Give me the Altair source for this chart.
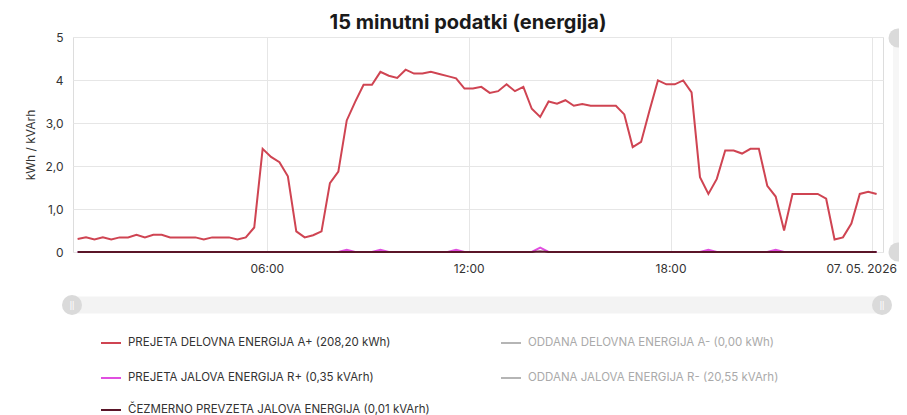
import altair as alt
import pandas as pd

# ---------------- data ----------------
series_names = [
    "PREJETA DELOVNA ENERGIJA A+ (208,20 kWh)",
    "PREJETA JALOVA ENERGIJA R+ (0,35 kVArh)",
    "ČEZMERNO PREVZETA JALOVA ENERGIJA (0,01 kVArh)",
]
hidden_names = [
    "ODDANA DELOVNA ENERGIJA A- (0,00 kWh)",
    "ODDANA JALOVA ENERGIJA R- (20,55 kVArh)",
]
series_colors = ["#cf4452", "#e04fe0", "#5a1528"]
hidden_colors = ["#b5b5b5", "#b5b5b5"]

# quarter-hour interval midpoints, in hours (00:22:30 ... 24:07:30)
hours = [0.375 + 0.25 * i for i in range(96)]

a_plus = [
    0.30, 0.34, 0.29, 0.34, 0.29, 0.34, 0.34, 0.40, 0.34, 0.40, 0.40, 0.34,
    0.34, 0.34, 0.34, 0.29, 0.34, 0.34, 0.34, 0.29, 0.34, 0.57, 2.40, 2.21,
    2.09, 1.76, 0.48, 0.34, 0.39, 0.48, 1.60, 1.87, 3.06, 3.49, 3.89, 3.89,
    4.19, 4.10, 4.05, 4.24, 4.15, 4.15, 4.19, 4.14, 4.09, 4.04, 3.80, 3.80,
    3.84, 3.70, 3.74, 3.90, 3.74, 3.84, 3.33, 3.14, 3.50, 3.45, 3.53, 3.40,
    3.44, 3.40, 3.40, 3.40, 3.40, 3.20, 2.44, 2.56, 3.29, 3.99, 3.90, 3.90,
    3.99, 3.71, 1.74, 1.35, 1.70, 2.36, 2.36, 2.29, 2.40, 2.40, 1.54, 1.29,
    0.50, 1.35, 1.35, 1.35, 1.35, 1.24, 0.29, 0.34, 0.66, 1.35, 1.40, 1.35,
]
r_plus = [0.0] * 96
for k, val in [(32, 0.05), (36, 0.05), (45, 0.05), (55, 0.10), (75, 0.05), (83, 0.05)]:
    r_plus[k] = val
excess = [0.0] * 96
excess[55] = 0.01

x_ticks = [6, 12, 18, 24]
x_tick_labels = ["06:00", "12:00", "18:00", "07. 05. 2026"]
y_ticks = [0, 1, 2, 3, 4, 5]
y_tick_labels = ["0", "1,0", "2,0", "3,0", "4", "5"]

rows = []
for name, vals in zip(series_names, [a_plus, r_plus, excess]):
    for h, v in zip(hours, vals):
        rows.append({"h": h, "v": v, "s": name})
df = pd.DataFrame(rows)

FONT = "Inter"


def js_list(items):
    return "[" + ",".join(repr(i) for i in items) + "]"


x_enc = alt.X(
    "h:Q",
    scale=alt.Scale(domain=[0.238, 24.315], nice=False, zero=False),
    axis=alt.Axis(
        values=x_ticks,
        labelExpr=f"{js_list(x_tick_labels)}[indexof({js_list(x_ticks)}, datum.value)]",
        title=None, domain=False, ticks=False, grid=True, gridColor="#e6e6e6",
        labelFont=FONT, labelFontSize=12, labelColor="#333333", labelPadding=11,
        labelFlush=12, labelFlushOffset=24, labelOverlap=False,
    ),
)
y_enc = alt.Y(
    "v:Q",
    scale=alt.Scale(domain=[0, 5], nice=False, zero=True),
    axis=alt.Axis(
        values=y_ticks,
        labelExpr=f"{js_list(y_tick_labels)}[indexof({js_list(y_ticks)}, datum.value)]",
        title="kWh / kVArh", titleFont=FONT, titleFontSize=12, titleFontWeight="normal",
        titleColor="#333333", titleAngle=-90, titleX=-43, titleY=107.5,
        titleAlign="center", titleBaseline="middle",
        domain=False, ticks=False, grid=True, gridColor="#e6e6e6",
        labelFont=FONT, labelFontSize=12, labelColor="#333333", labelPadding=10,
    ),
)


def make_legend(x, y, color):
    return alt.Legend(
        title=None, orient="none", legendX=x, legendY=y, direction="vertical",
        rowPadding=18, labelFont=FONT, labelFontSize=11.5, labelColor=color,
        labelLimit=500, symbolType="stroke", symbolSize=400, symbolStrokeWidth=2,
        labelOffset=6,
    )


stroke_main = alt.Stroke(
    "s:N", scale=alt.Scale(domain=series_names[:2], range=series_colors[:2]),
    legend=make_legend(27, 295, "#333333"),
)
stroke_excess = alt.Stroke(
    "s:N", scale=alt.Scale(domain=series_names[2:], range=series_colors[2:]),
    legend=make_legend(27, 362, "#333333"),
)

base = alt.Chart(df)
line_a = (base.transform_filter(alt.datum.s == series_names[0])
          .mark_line(strokeWidth=2).encode(x=x_enc, y=y_enc, stroke=stroke_main))
line_r = (base.transform_filter(alt.datum.s == series_names[1])
          .mark_line(strokeWidth=2).encode(x=x_enc, y=y_enc, stroke=stroke_main))
main = alt.layer(line_a, line_r)
line_c = (base.transform_filter(alt.datum.s == series_names[2])
          .mark_line(strokeWidth=2).encode(x=x_enc, y=y_enc, stroke=stroke_excess))

hidden = (
    alt.Chart(pd.DataFrame({"s": hidden_names}))
    .transform_filter("false")
    .mark_line(strokeWidth=2)
    .encode(
        x=x_enc, y=y_enc,
        stroke=alt.Stroke("s:N", scale=alt.Scale(domain=hidden_names, range=hidden_colors),
                          legend=make_legend(427, 295, "#aaaaaa")),
    )
)

# ---- chart furniture (range navigator & side scroller) ----
one = alt.Chart(pd.DataFrame({"k": [0]}))
nav_bar = one.mark_rule(color="#f3f3f3", strokeWidth=17, strokeCap="round").encode(
    x=alt.value(-1), x2=alt.value(809), y=alt.value(268)
)
nav_h1 = one.mark_circle(color="#dadada", opacity=1, size=400).encode(x=alt.value(-1), y=alt.value(268))
nav_h2 = one.mark_circle(color="#dadada", opacity=1, size=400).encode(x=alt.value(809), y=alt.value(268))
nav_t1 = one.mark_text(text="||", color="white", fontSize=9).encode(x=alt.value(-1), y=alt.value(268))
nav_t2 = one.mark_text(text="||", color="white", fontSize=9).encode(x=alt.value(809), y=alt.value(268))
side_bar = one.mark_rule(color="#f6f6f6", strokeWidth=14).encode(
    x=alt.value(827), y=alt.value(0), y2=alt.value(215)
)
side_h1 = one.mark_circle(color="#dadada", opacity=1, size=360).encode(x=alt.value(825), y=alt.value(1))
side_h2 = one.mark_circle(color="#dadada", opacity=1, size=360).encode(x=alt.value(825), y=alt.value(215))

furniture = alt.layer(nav_bar, nav_h1, nav_h2, nav_t1, nav_t2, side_bar, side_h1, side_h2)

chart = (
    alt.layer(furniture, main, hidden, line_c)
    .resolve_scale(stroke="independent")
    .resolve_legend(stroke="independent")
    .properties(
        width=810, height=215,
        autosize=alt.AutoSizeParams(type="none"),
        padding={"left": 65, "top": 29, "right": 16, "bottom": 163},
        title=alt.TitleParams(
            "15 minutni podatki (energija)", font=FONT, fontSize=20, fontWeight="bold",
            color="#1a1a1a", anchor="middle", dx=-10, offset=-4,
        ),
    )
    .configure_view(stroke=None)
    .configure(background="white")
)

chart.save("out.html", embed_options={"renderer": "svg", "actions": False})
